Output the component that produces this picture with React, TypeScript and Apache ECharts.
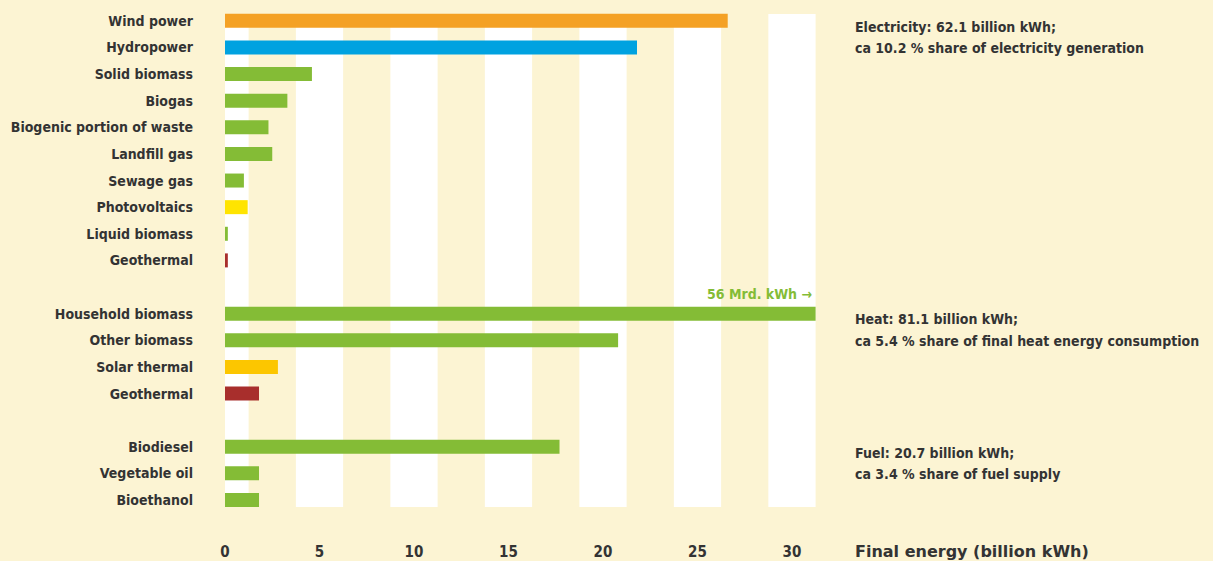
import React, { useEffect, useRef } from 'react';
import * as echarts from 'echarts';

const categories = [
  'Wind power', 'Hydropower', 'Solid biomass', 'Biogas', 'Biogenic portion of waste',
  'Landfill gas', 'Sewage gas', 'Photovoltaics', 'Liquid biomass', 'Geothermal',
  '',
  'Household biomass', 'Other biomass', 'Solar thermal', 'Geothermal',
  '',
  'Biodiesel', 'Vegetable oil', 'Bioethanol',
];
const values = [
  26.6, 21.8, 4.6, 3.3, 2.3, 2.5, 1.0, 1.2, 0.15, 0.15,
  null,
  56, 20.8, 2.8, 1.8,
  null,
  17.7, 1.8, 1.8,
];
const ORANGE = '#f4a125';
const BLUE = '#00a2e0';
const GREEN = '#84bc36';
const YELLOW = '#ffe400';
const GOLD = '#fcc600';
const RED = '#a82e2c';
const barColors = [
  ORANGE, BLUE, GREEN, GREEN, GREEN, GREEN, GREEN, YELLOW, GREEN, RED,
  null,
  GREEN, GREEN, GOLD, RED,
  null,
  GREEN, GREEN, GREEN,
];
const xTicks = [0, 5, 10, 15, 20, 25, 30];
const xMax = 31.25;
const stripeHalf = 1.25;
const notes = [
  { lines: ['Electricity: 62.1 billion kWh;', 'ca 10.2 % share of electricity generation'], y: 26.5 },
  { lines: ['Heat: 81.1 billion kWh;', 'ca 5.4 % share of final heat energy consumption'], y: 319 },
  { lines: ['Fuel: 20.7 billion kWh;', 'ca 3.4 % share of fuel supply'], y: 452.5 },
];
const overflowLabel = '56 Mrd. kWh \u2192';
const axisTitle = 'Final energy (billion kWh)';

const BG = '#fcf4d3';
const TEXT = '#333333';
const FONT = "'DejaVu Sans Condensed', sans-serif";

export default function App() {
  const ref = useRef<HTMLDivElement>(null);
  useEffect(() => {
    const chart = echarts.init(ref.current!, null, { renderer: 'svg' });
    const stripes = xTicks.map((t) => [t - stripeHalf, t + stripeHalf]);
    const gridL = 225;
    const gridR = 1213 - 815.6;
    const graphics: any[] = [];
    notes.forEach((n) => {
      n.lines.forEach((l, i) => {
        graphics.push({
          type: 'text', x: 855, y: n.y + i * 21.5, z: 10,
          style: { text: l, fill: TEXT, font: `bold 14px ${FONT}`, textAlign: 'left', textVerticalAlign: 'middle' },
        });
      });
    });
    graphics.push({
      type: 'text', x: 812, y: 293.5, z: 10,
      style: { text: overflowLabel, fill: GREEN, font: `bold 14px ${FONT}`, textAlign: 'right', textVerticalAlign: 'middle' },
    });
    graphics.push({
      type: 'text', x: 855, y: 551, z: 10,
      style: { text: axisTitle, fill: TEXT, font: `bold 16px 'DejaVu Sans', sans-serif`, textAlign: 'left', textVerticalAlign: 'middle' },
    });
    chart.setOption({
      animation: false,
      backgroundColor: BG,
      grid: [
        { left: gridL, right: gridR, top: 7.5, height: 505.8, outerBoundsMode: 'none', containLabel: false },
        { left: gridL, right: gridR, top: 14, height: 493, outerBoundsMode: 'none', containLabel: false },
      ],
      xAxis: [
        {
          gridIndex: 0, type: 'value', min: 0, max: xMax, interval: 5,
          axisLine: { show: false }, axisTick: { show: false }, splitLine: { show: false },
          axisLabel: { showMaxLabel: false, margin: 31, color: TEXT, fontWeight: 'bold', fontSize: 15, fontFamily: FONT },
        },
        { gridIndex: 1, type: 'value', min: 0, max: xMax, show: false },
      ],
      yAxis: [
        {
          gridIndex: 0, type: 'category', data: categories, inverse: true,
          axisLine: { show: false }, axisTick: { show: false }, splitLine: { show: false },
          axisLabel: { margin: 32, color: TEXT, fontWeight: 'bold', fontSize: 14, fontFamily: FONT },
        },
        { gridIndex: 1, type: 'value', min: 0, max: 1, show: false },
      ],
      series: [
        {
          type: 'custom', xAxisIndex: 1, yAxisIndex: 1, z: 0, silent: true,
          data: stripes,
          renderItem: (params: any, api: any) => {
            const s = Math.max(0, api.value(0));
            const e = Math.min(xMax, api.value(1));
            const p0 = api.coord([s, 1]);
            const p1 = api.coord([e, 0]);
            return {
              type: 'rect',
              shape: { x: p0[0], y: p0[1], width: p1[0] - p0[0], height: p1[1] - p0[1] },
              style: { fill: '#ffffff' },
            };
          },
        },
        {
          type: 'bar', xAxisIndex: 0, yAxisIndex: 0, z: 2, barWidth: 14,
          data: values.map((v, i) => ({ value: v, itemStyle: { color: barColors[i] || GREEN } })),
        },
      ],
      graphic: graphics,
    });
    return () => chart.dispose();
  }, []);
  return <div ref={ref} style={{ position: 'fixed', left: 0, top: 0, width: 1213, height: 561 }} />;
}
